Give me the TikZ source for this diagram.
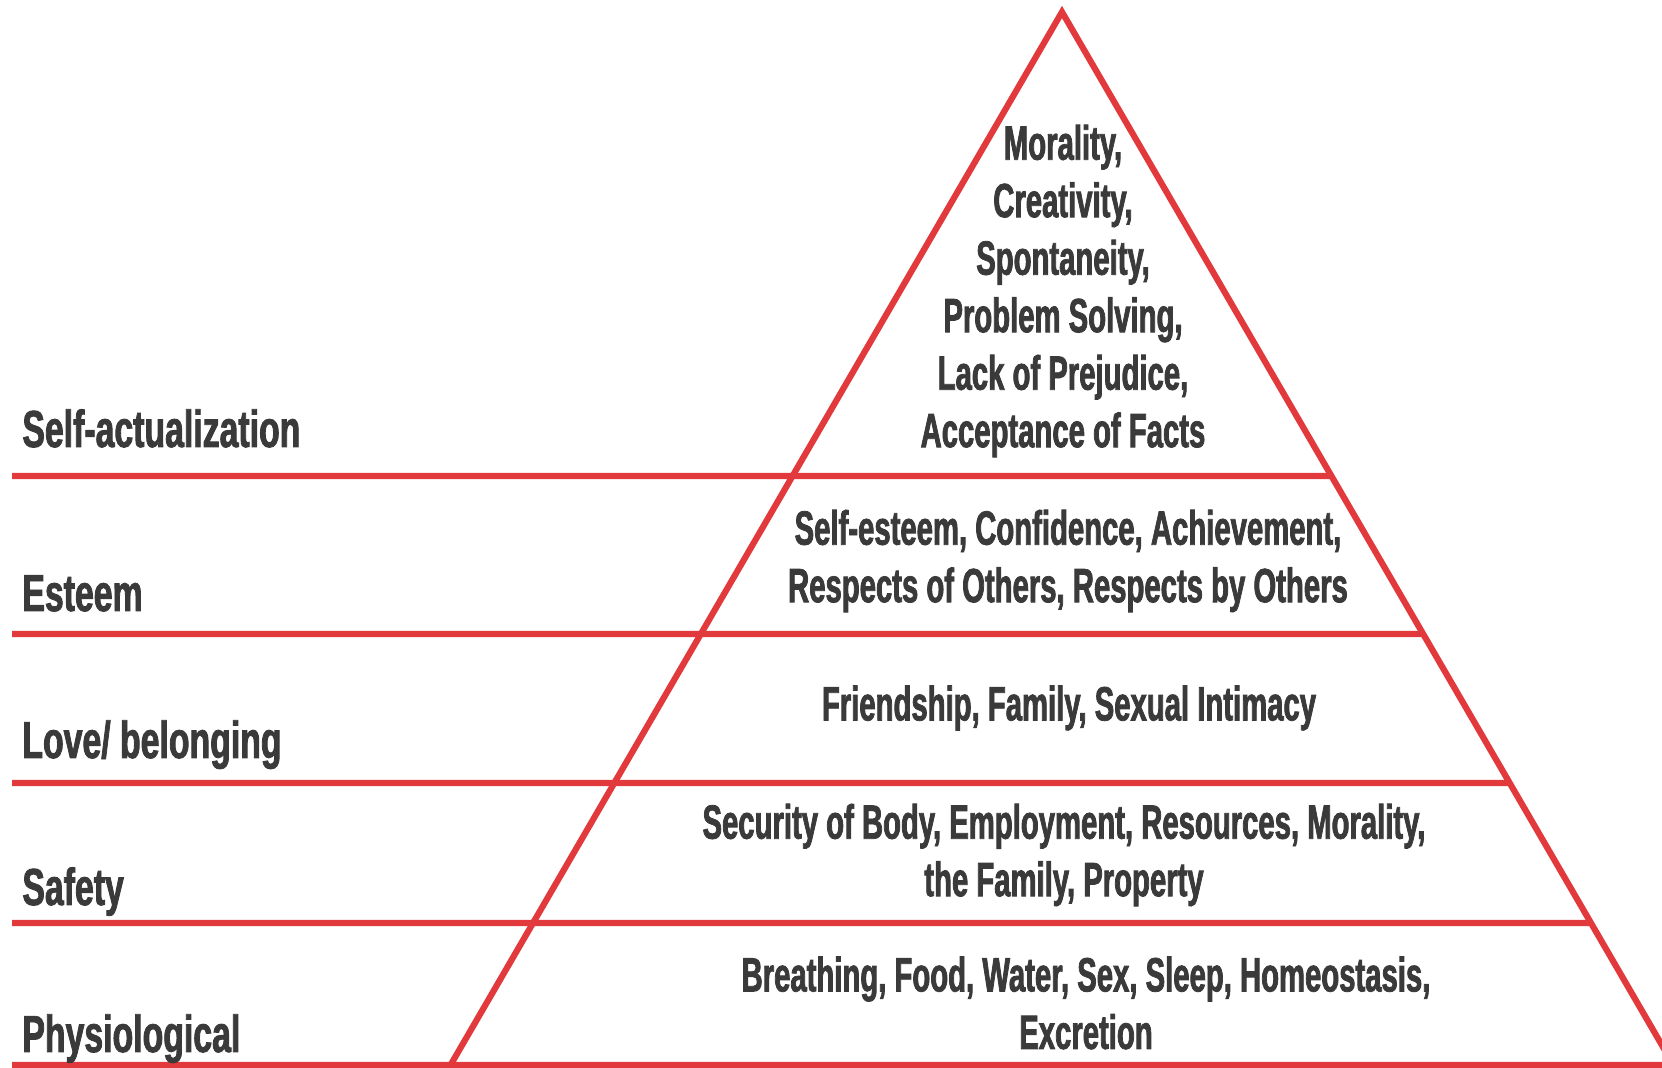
\documentclass[tikz,border=0pt]{standalone}
\usepackage{fontspec}
\usetikzlibrary{calc}
\newfontfamily\pyrfont[FakeStretch=0.61,FakeBold=1.6]{Liberation Sans}
\newfontfamily\lvlfont[FakeStretch=0.65,FakeBold=1.6]{Liberation Sans}
\definecolor{pyrred}{RGB}{226,58,60}
\definecolor{inkgray}{RGB}{58,58,58}

\begin{document}
\begin{tikzpicture}[x=0.5pt, y=-0.5pt,
    tier/.style={draw=pyrred, line width=3.1pt},
    level/.style={anchor=base west, inner sep=0pt, text=inkgray, font=\lvlfont\bfseries\fontsize{26}{29}\selectfont},
    need/.style={align=center, inner sep=0pt, text=inkgray, font=\pyrfont\bfseries\fontsize{24}{28.75}\selectfont}
]
    \useasboundingbox (0,0) rectangle (1662,1068);
    \clip (0,0) rectangle (1662,1068);

    % Pyramid outline
    \coordinate (apex) at (1062,12);
    \coordinate (lbase) at (450,1066);
    \coordinate (rbase) at (1674,1066);
    \draw[tier, line join=miter] (lbase) -- (apex) -- (rbase);

    % Tier dividers
    \foreach \y in {476,634,783,923,1065}
        \draw[tier] (12,\y) -- ($(apex)!{(\y-12)/1054}!(rbase)$);

    % Level names
    \node[level] (selfact) at (22,447) {Self-actualization};
    \node[level] (esteem) at (22,611) {Esteem};
    \node[level] (love) at (22,758) {Love/ belonging};
    \node[level] (safety) at (22,905) {Safety};
    \node[level] (physio) at (22,1052) {Physiological};

    % Needs in each tier
    \node[need] (selfactneeds) at (1063,291) {Morality,\\Creativity,\\Spontaneity,\\Problem Solving,\\Lack of Prejudice,\\Acceptance of Facts};
    \node[need] (esteemneeds) at (1068,561) {Self-esteem, Confidence, Achievement,\\Respects of Others, Respects by Others};
    \node[need] (loveneeds) at (1069,708) {Friendship, Family, Sexual Intimacy};
    \node[need] (safetyneeds) at (1064,855) {Security of Body, Employment, Resources, Morality,\\the Family, Property};
    \node[need] (physioneeds) at (1086,1003) {Breathing, Food, Water, Sex, Sleep, Homeostasis,\\Excretion};
\end{tikzpicture}
\end{document}
